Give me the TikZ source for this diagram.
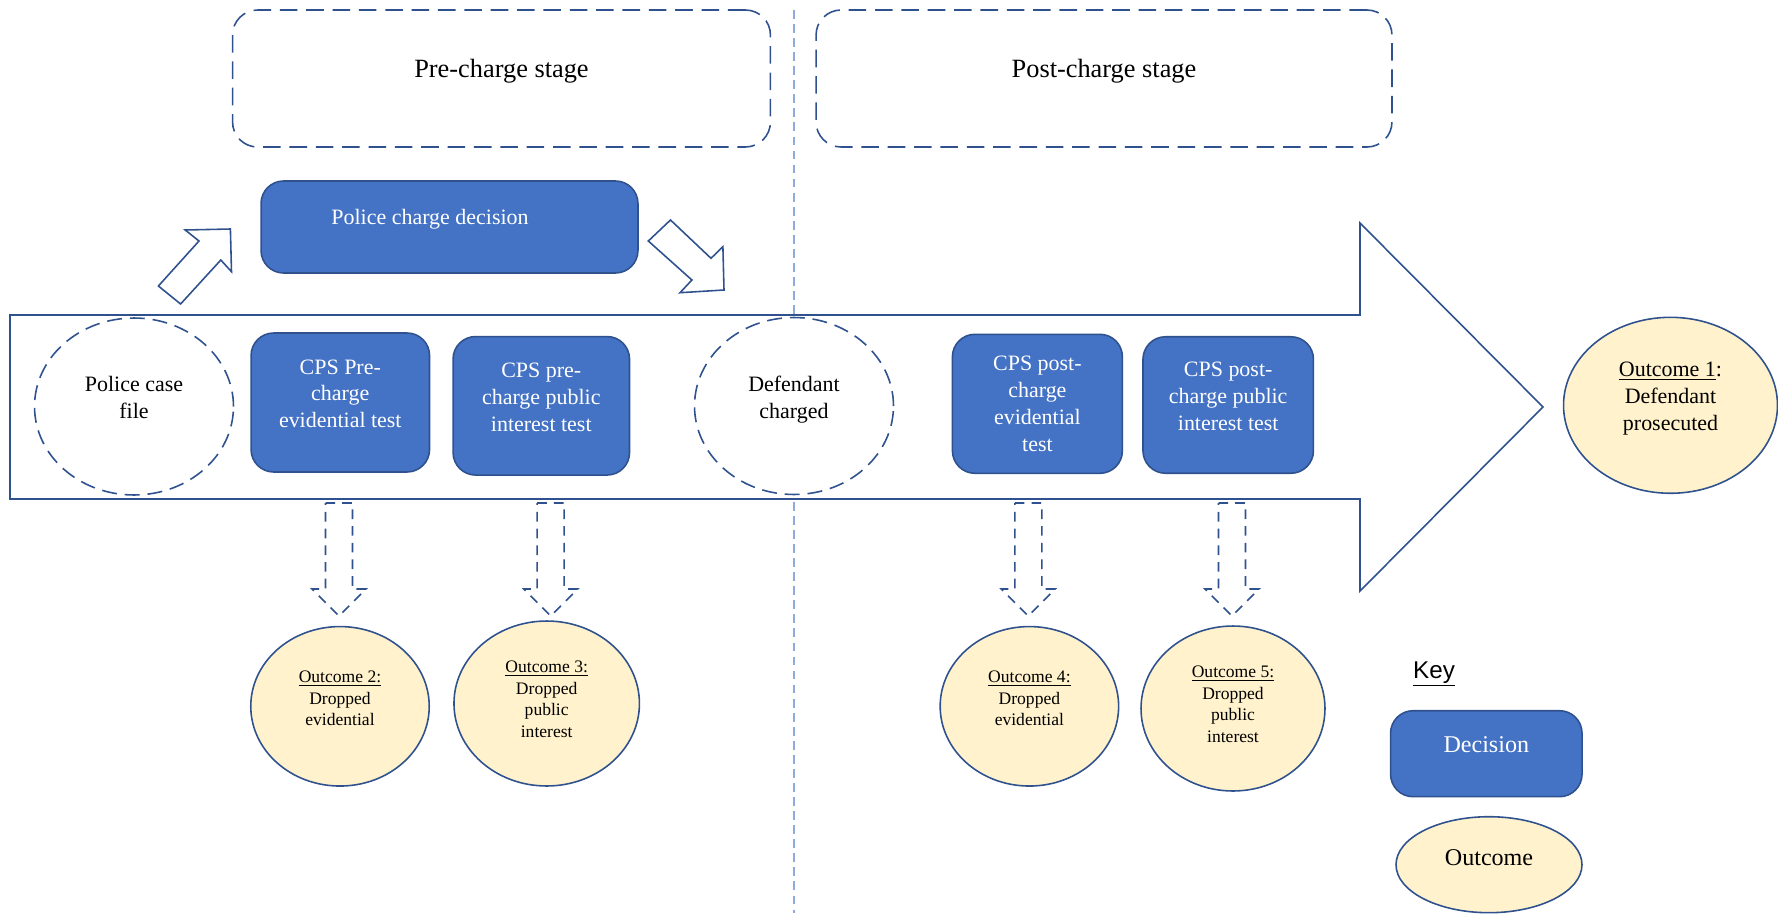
\documentclass[tikz,border=0pt]{standalone}
\usepackage{fontspec}
\setmainfont{Liberation Serif}
\newfontfamily\keyfont{Liberation Sans}
\usetikzlibrary{shapes.geometric}
\definecolor{decblue}{HTML}{4472C4}
\definecolor{edgeblue}{HTML}{2F528F}
\definecolor{outfill}{HTML}{FFF2CC}
\definecolor{divblue}{HTML}{8FAADC}
\newcommand{\mainsize}{\fontsize{12.5}{15.3}\selectfont}
\newcommand{\smallsize}{\fontsize{10}{12.2}\selectfont}

\begin{document}
\begin{tikzpicture}[x=0.02cm,y=-0.02cm,
    decision/.style={draw=edgeblue,fill=decblue,rounded corners=0.45cm,line width=0.9pt,
      text=white,align=center,font=\mainsize,text depth=10pt},
    outcome/.style={ellipse,draw=edgeblue,fill=outfill,line width=0.9pt,inner sep=0pt,
      align=center,font=\smallsize,text depth=9pt},
    dashring/.style={ellipse,draw=edgeblue,dash pattern=on 8.5pt off 4.5pt,line width=0.9pt,
      align=center,font=\mainsize,text depth=10pt,minimum width=3.98cm,minimum height=3.54cm},
    stagebox/.style={draw=edgeblue,dash pattern=on 10pt off 5pt,rounded corners=0.5cm,
      line width=0.9pt,font=\fontsize{15}{18}\selectfont,text depth=11pt,minimum height=2.74cm},
    dropshape/.style={draw=edgeblue,dash pattern=on 5.5pt off 4pt,line width=0.9pt,fill=white},
    bendshape/.style={draw=edgeblue,line width=0.9pt,fill=white}]
  \useasboundingbox (0,0) rectangle (1778,913);

  \draw[divblue,line width=0.6pt,dash pattern=on 5pt off 3pt] (794,10) -- (794,913);

  \node[stagebox,minimum width=10.76cm] (prestage) at (501.5,78.5) {Pre-charge stage};
  \node[stagebox,minimum width=11.52cm] (poststage) at (1104,78.5) {Post-charge stage};

  \draw[bendshape] (10,315) -- (1360,315) -- (1360,223) -- (1543,407) -- (1360,591)
    -- (1360,499) -- (10,499) -- cycle;

  \draw[bendshape] (180.6,304) -- (220.8,260) -- (231.5,271.7) -- (230.4,229) -- (185.2,230)
    -- (199,241) -- (158.4,286) -- cycle;
  \draw[bendshape] (648.3,241) -- (670.5,220) -- (711,258.3) -- (722.9,246.7) -- (724,290)
    -- (680,292.7) -- (691.9,280) -- cycle;

  \node[decision,minimum width=7.54cm,minimum height=1.84cm,
    label={[text=white,font=\mainsize,xshift=-0.39cm,yshift=0.16cm]center:Police charge decision}]
    (police) at (449.5,227) {};

  \node[dashring] (casefile) at (134,406.5) {Police case\\file};
  \node[decision,minimum width=3.57cm,minimum height=2.78cm] (preevid) at (340.3,402.5)
    {CPS Pre-\\charge\\evidential test};
  \node[decision,minimum width=3.53cm,minimum height=2.77cm] (prepub) at (541.3,405.8)
    {CPS pre-\\charge public\\interest test};
  \node[dashring] (charged) at (794,406) {Defendant\\charged};
  \node[decision,text depth={},minimum width=3.4cm,minimum height=2.78cm] (postevid)
    at (1037.4,403.8) {CPS post-\\charge\\evidential\\test};
  \node[decision,minimum width=3.41cm,minimum height=2.73cm] (postpub) at (1228.2,405)
    {CPS post-\\charge public\\interest test};
  \node[outcome,font=\mainsize,text depth=10.5pt,minimum width=4.28cm,minimum height=3.52cm]
    (out1) at (1670.5,405.3) {\underline{Outcome 1}:\\Defendant\\prosecuted};

  \foreach \x in {339,550.7,1028.3,1232}
    \draw[dropshape] (\x-13.5,503) -- (\x+13.5,503) -- (\x+13.5,589) -- (\x+27,589)
      -- (\x,616) -- (\x-27,589) -- (\x-13.5,589) -- cycle;

  \node[outcome,minimum width=3.57cm,minimum height=3.19cm] (out2) at (340,706.3)
    {\underline{Outcome 2:}\\Dropped\\evidential};
  \node[outcome,text depth=5pt,minimum width=3.71cm,minimum height=3.3cm] (out3) at (546.7,703.5)
    {\underline{Outcome 3:}\\Dropped\\public\\interest};
  \node[outcome,minimum width=3.57cm,minimum height=3.19cm] (out4) at (1029.4,706.3)
    {\underline{Outcome 4:}\\Dropped\\evidential};
  \node[outcome,text depth=5pt,minimum width=3.68cm,minimum height=3.3cm] (out5) at (1233,708.5)
    {\underline{Outcome 5:}\\Dropped\\public\\interest};

  \node[font=\keyfont\fontsize{13.8}{16}\selectfont] (key) at (1434,674) {\underline{Key}};
  \node[decision,font=\fontsize{13.7}{16}\selectfont,minimum width=3.83cm,minimum height=1.72cm]
    (keydec) at (1486.3,753.7) {Decision};
  \node[outcome,font=\fontsize{13.7}{16}\selectfont,text depth=8pt,minimum width=3.72cm,
    minimum height=1.92cm] (keyout) at (1489,864.7) {Outcome};
\end{tikzpicture}
\end{document}
